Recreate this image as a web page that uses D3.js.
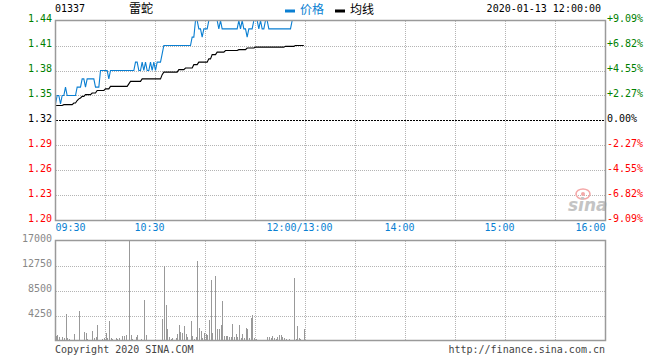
<!DOCTYPE html>
<html>
<head>
<meta charset="utf-8">
<script src="https://cdn.jsdelivr.net/npm/d3@7"></script>
<style>
  body { margin: 0; background: #fff; }
  text { font-family: "DejaVu Sans Mono", "Liberation Mono", monospace; font-size: 10px; }
  .cjk { font-family: "Noto Sans CJK SC", sans-serif; font-size: 12px; }
</style>
</head>
<body>
<div id="chart"></div>
<script>
// 01337 intraday, minutes since 09:30 (one value per minute, 09:30 - 11:59)
const preClose = 1.32;
const priceTicks = [1.20, 1.23, 1.26, 1.29, 1.32, 1.35, 1.38, 1.41, 1.44];
const volumeTicks = [4250, 8500, 12750, 17000];
const timeLabels = ["09:30", "10:30", "12:00/13:00", "14:00", "15:00", "16:00"];
const timeLabelMinutes = [0, 60, 150, 210, 270, 330];

const price = [
  1.34, 1.35, 1.35, 1.34, 1.35, 1.35, 1.36, 1.35, 1.35, 1.35,
  1.35, 1.35, 1.35, 1.36, 1.36, 1.36, 1.37, 1.37, 1.36, 1.37,
  1.37, 1.37, 1.37, 1.37, 1.36, 1.36, 1.36, 1.38, 1.38, 1.38,
  1.38, 1.38, 1.37, 1.38, 1.38, 1.38, 1.38, 1.38, 1.38, 1.38,
  1.38, 1.38, 1.38, 1.38, 1.38, 1.38, 1.38, 1.38, 1.39, 1.39,
  1.38, 1.38, 1.39, 1.38, 1.39, 1.38, 1.38, 1.39, 1.38, 1.39,
  1.38, 1.39, 1.39, 1.39, 1.40, 1.41, 1.41, 1.41, 1.41, 1.41,
  1.41, 1.41, 1.41, 1.41, 1.41, 1.41, 1.41, 1.41, 1.41, 1.41,
  1.41, 1.41, 1.42, 1.42, 1.44, 1.44, 1.43, 1.43, 1.42, 1.43,
  1.43, 1.43, 1.44, 1.44, 1.44, 1.44, 1.44, 1.44, 1.43, 1.44,
  1.43, 1.43, 1.43, 1.43, 1.43, 1.43, 1.43, 1.43, 1.43, 1.43,
  1.44, 1.43, 1.44, 1.43, 1.43, 1.42, 1.43, 1.43, 1.43, 1.44,
  1.44, 1.44, 1.43, 1.44, 1.43, 1.43, 1.44, 1.44, 1.43, 1.43,
  1.43, 1.43, 1.43, 1.43, 1.43, 1.43, 1.43, 1.43, 1.43, 1.43,
  1.43, 1.43, 1.44, 1.44, 1.44, 1.44, 1.44, 1.44, 1.44, 1.44
];

const avgPrice = [
  1.338, 1.338, 1.338, 1.338, 1.338, 1.339, 1.339, 1.339, 1.339, 1.339,
  1.339, 1.341, 1.341, 1.344, 1.346, 1.347, 1.349, 1.349, 1.351, 1.351,
  1.351, 1.351, 1.353, 1.353, 1.353, 1.356, 1.356, 1.356, 1.356, 1.356,
  1.358, 1.358, 1.358, 1.361, 1.361, 1.361, 1.361, 1.361, 1.361, 1.361,
  1.361, 1.361, 1.361, 1.361, 1.364, 1.367, 1.367, 1.367, 1.367, 1.367,
  1.367, 1.367, 1.370, 1.370, 1.370, 1.370, 1.370, 1.370, 1.370, 1.370,
  1.370, 1.370, 1.370, 1.370, 1.375, 1.378, 1.378, 1.378, 1.378, 1.378,
  1.378, 1.378, 1.378, 1.378, 1.381, 1.381, 1.381, 1.381, 1.383, 1.383,
  1.383, 1.383, 1.383, 1.387, 1.387, 1.387, 1.390, 1.390, 1.390, 1.390,
  1.390, 1.390, 1.394, 1.394, 1.399, 1.399, 1.399, 1.402, 1.402, 1.402,
  1.402, 1.402, 1.404, 1.404, 1.404, 1.404, 1.404, 1.404, 1.404, 1.404,
  1.405, 1.405, 1.405, 1.405, 1.405, 1.407, 1.407, 1.407, 1.407, 1.407,
  1.408, 1.408, 1.408, 1.408, 1.408, 1.408, 1.408, 1.408, 1.408, 1.408,
  1.408, 1.408, 1.408, 1.408, 1.408, 1.408, 1.408, 1.408, 1.409, 1.409,
  1.409, 1.409, 1.409, 1.409, 1.410, 1.410, 1.410, 1.410, 1.410, 1.410
];

const volume = [
  740, 900, 570, 0, 570, 450, 4590, 510, 230, 0,
  0, 1190, 170, 0, 4990, 0, 0, 1470, 1300, 280,
  170, 0, 1700, 450, 570, 2720, 0, 0, 340, 450,
  1300, 450, 3290, 510, 230, 0, 510, 340, 450, 0,
  790, 790, 1020, 0, 17000, 900, 230, 0, 570, 900,
  0, 340, 0, 6970, 1020, 170, 0, 170, 170, 0,
  0, 170, 170, 0, 3740, 12640, 6000, 2040, 630, 340,
  510, 0, 510, 1190, 2720, 1470, 1300, 2440, 1190, 630,
  170, 3290, 790, 340, 630, 13600, 2150, 1700, 510, 1300,
  1080, 900, 3460, 10260, 1300, 0, 10940, 2040, 2040, 2720,
  6800, 740, 740, 740, 570, 570, 2890, 570, 1190, 570,
  2610, 450, 1190, 510, 2150, 2040, 450, 3910, 4300, 450,
  230, 170, 170, 170, 170, 0, 0, 570, 680, 450,
  790, 450, 340, 570, 900, 1020, 630, 450, 230, 0,
  230, 170, 0, 10700, 340, 2490, 510, 340, 170, 1930
];

const width = 660, height = 360;
const left = 55.5, right = 605.5;
const priceTop = 20.5, priceBottom = 220.5;
const volTop = 240.5, volBottom = 340.5;
const blue = "#0a7fd2", gridColor = "#b4b4b4", frameColor = "#9a9a9a";

const svg = d3.select("#chart").append("svg")
  .attr("width", width).attr("height", height);
svg.append("rect").attr("width", width).attr("height", height).attr("fill", "#fff");

const x = d3.scaleLinear().domain([0, 330]).range([left, right]);
const y = d3.scaleLinear().domain([1.20, 1.44]).range([priceBottom, priceTop]);
const yv = d3.scaleLinear().domain([0, 17000]).range([volBottom, volTop]);
const pct = (v) => {
  const p = (v - preClose) / preClose * 100;
  return (p > 0.0001 ? "+" : p < -0.0001 ? "-" : "") + Math.abs(p).toFixed(2) + "%";
};
const tickColor = (v) => (Math.abs(v - preClose) < 1e-6 ? "#000" : v > preClose ? "#008000" : "#ff0000");

// grid
const vGrid = d3.range(30, 330, 30);
[[priceTop, priceBottom], [volTop, volBottom]].forEach(([t, b]) => {
  svg.append("g").selectAll("line").data(vGrid).join("line")
    .attr("x1", (d) => x(d)).attr("x2", (d) => x(d))
    .attr("y1", t).attr("y2", b)
    .attr("stroke", gridColor).attr("stroke-dasharray", "1,1")
    .attr("shape-rendering", "crispEdges");
});
svg.append("g").selectAll("line")
  .data(priceTicks.filter((d) => d > 1.20 && d < 1.44 && d !== preClose)).join("line")
  .attr("x1", left).attr("x2", right)
  .attr("y1", (d) => Math.round(y(d)) + 0.5).attr("y2", (d) => Math.round(y(d)) + 0.5)
  .attr("stroke", gridColor).attr("stroke-dasharray", "1,1")
  .attr("shape-rendering", "crispEdges");
svg.append("line")
  .attr("x1", left).attr("x2", right)
  .attr("y1", Math.round(y(preClose)) + 0.5).attr("y2", Math.round(y(preClose)) + 0.5)
  .attr("stroke", "#000").attr("stroke-dasharray", "2,1")
  .attr("shape-rendering", "crispEdges");
svg.append("g").selectAll("line")
  .data(volumeTicks.filter((d) => d < 17000)).join("line")
  .attr("x1", left).attr("x2", right)
  .attr("y1", (d) => Math.round(yv(d)) + 0.5).attr("y2", (d) => Math.round(yv(d)) + 0.5)
  .attr("stroke", gridColor).attr("stroke-dasharray", "1,1")
  .attr("shape-rendering", "crispEdges");

// sina watermark
const logo = svg.append("g").attr("transform", "translate(568,187)");
logo.append("ellipse").attr("cx", 15).attr("cy", 7).attr("rx", 7).attr("ry", 5)
  .attr("fill", "none").attr("stroke", "#f4a8a8").attr("stroke-width", 1.6);
logo.append("circle").attr("cx", 15).attr("cy", 7).attr("r", 2).attr("fill", "#f4a8a8");
logo.append("text").attr("x", 0).attr("y", 24)
  .style("font-family", "DejaVu Sans, sans-serif").style("font-size", "17px")
  .style("font-style", "italic").style("font-weight", "bold")
  .attr("fill", "#c4c4c4").text("sina");

// volume bars
svg.append("g").selectAll("rect").data(volume).join("rect")
  .attr("x", (d, i) => Math.round(x(i)))
  .attr("y", (d) => yv(d))
  .attr("width", 1)
  .attr("height", (d) => yv(0) - yv(d))
  .attr("fill", "#999")
  .attr("shape-rendering", "crispEdges");

// lines
const line = d3.line().x((d, i) => x(i)).y((d) => y(d));
svg.append("path").datum(avgPrice).attr("d", line)
  .attr("fill", "none").attr("stroke", "#000").attr("stroke-width", 1.1);
svg.append("path").datum(price).attr("d", line)
  .attr("fill", "none").attr("stroke", blue).attr("stroke-width", 1.1);

// frames
svg.append("rect").attr("x", left).attr("y", priceTop)
  .attr("width", right - left).attr("height", priceBottom - priceTop)
  .attr("fill", "none").attr("stroke", frameColor).attr("stroke-width", 1.5);
svg.append("rect").attr("x", left).attr("y", volTop)
  .attr("width", right - left).attr("height", volBottom - volTop)
  .attr("fill", "none").attr("stroke", frameColor).attr("stroke-width", 1.5);

// axis labels
svg.append("g").selectAll("text").data(priceTicks).join("text")
  .attr("x", 52).attr("y", (d) => y(d) + 1)
  .attr("text-anchor", "end").attr("fill", tickColor)
  .text((d) => d.toFixed(2));
svg.append("g").selectAll("text").data(priceTicks).join("text")
  .attr("x", 607).attr("y", (d) => y(d) + 1)
  .attr("fill", tickColor)
  .text((d) => pct(d));
svg.append("g").selectAll("text").data(volumeTicks).join("text")
  .attr("x", 52).attr("y", (d) => yv(d) + 1)
  .attr("text-anchor", "end").attr("fill", "#888")
  .text((d) => d);
svg.append("g").selectAll("text").data(timeLabels).join("text")
  .attr("x", (d, i) => (i === 0 ? left : i === timeLabels.length - 1 ? right : x(timeLabelMinutes[i]) - 6))
  .attr("y", 231)
  .attr("text-anchor", (d, i) => (i === 0 ? "start" : i === timeLabels.length - 1 ? "end" : "middle"))
  .attr("fill", blue)
  .text((d) => d);

// header
svg.append("text").attr("x", 55).attr("y", 12).attr("fill", "#000").text("01337");
svg.append("text").attr("class", "cjk").attr("x", 129).attr("y", 13).attr("fill", "#000").text("雷蛇");
svg.append("rect").attr("x", 285).attr("y", 9.5).attr("width", 10).attr("height", 3).attr("fill", blue);
svg.append("text").attr("class", "cjk").attr("x", 300).attr("y", 14).attr("fill", blue).text("价格");
svg.append("rect").attr("x", 335).attr("y", 9.5).attr("width", 10).attr("height", 3).attr("fill", "#000");
svg.append("text").attr("class", "cjk").attr("x", 350).attr("y", 14).attr("fill", "#000").text("均线");
svg.append("text").attr("x", 601).attr("y", 12).attr("text-anchor", "end").attr("fill", "#000")
  .text("2020-01-13 12:00:00");

// footer
svg.append("text").attr("x", 55).attr("y", 353).attr("fill", "#444").text("Copyright 2020 SINA.COM");
svg.append("text").attr("x", 605).attr("y", 353).attr("text-anchor", "end").attr("fill", "#444")
  .text("http://finance.sina.com.cn");
</script>
</body>
</html>
